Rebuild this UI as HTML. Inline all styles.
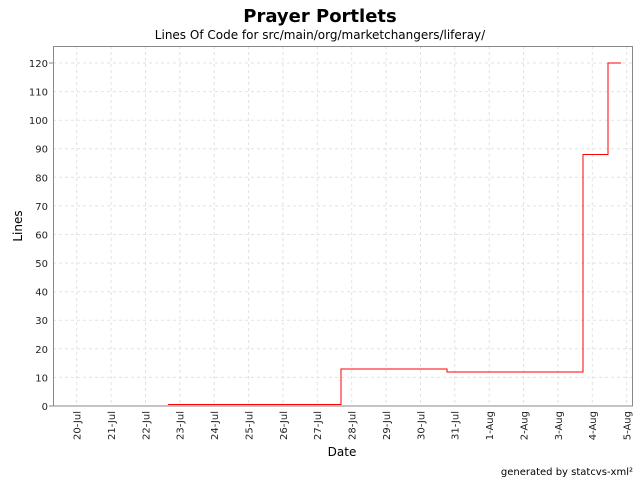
<!DOCTYPE html>
<html><head><style>body{margin:0;background:#fff}svg{display:block}text{font-family:"DejaVu Sans","Liberation Sans",sans-serif}</style></head><body>
<svg width="640" height="480" xmlns="http://www.w3.org/2000/svg">
<text x="320" y="22" text-anchor="middle" font-size="18" font-weight="bold">Prayer Portlets</text>
<text x="320" y="39" text-anchor="middle" font-size="12">Lines Of Code for src/main/org/marketchangers/liferay/</text>
<g stroke="#e2e2e2" stroke-dasharray="3,3" stroke-width="1">
<line x1="53" x2="632" y1="63" y2="63"/><line x1="53" x2="632" y1="91.6" y2="91.6"/><line x1="53" x2="632" y1="120.2" y2="120.2"/><line x1="53" x2="632" y1="148.7" y2="148.7"/><line x1="53" x2="632" y1="177.3" y2="177.3"/><line x1="53" x2="632" y1="205.9" y2="205.9"/><line x1="53" x2="632" y1="234.5" y2="234.5"/><line x1="53" x2="632" y1="263.1" y2="263.1"/><line x1="53" x2="632" y1="291.7" y2="291.7"/><line x1="53" x2="632" y1="320.2" y2="320.2"/><line x1="53" x2="632" y1="348.8" y2="348.8"/><line x1="53" x2="632" y1="377.4" y2="377.4"/>
<line x1="76.7" x2="76.7" y1="46" y2="406"/><line x1="111.1" x2="111.1" y1="46" y2="406"/><line x1="145.5" x2="145.5" y1="46" y2="406"/><line x1="179.8" x2="179.8" y1="46" y2="406"/><line x1="214.2" x2="214.2" y1="46" y2="406"/><line x1="248.6" x2="248.6" y1="46" y2="406"/><line x1="283" x2="283" y1="46" y2="406"/><line x1="317.3" x2="317.3" y1="46" y2="406"/><line x1="351.7" x2="351.7" y1="46" y2="406"/><line x1="386.1" x2="386.1" y1="46" y2="406"/><line x1="420.5" x2="420.5" y1="46" y2="406"/><line x1="454.8" x2="454.8" y1="46" y2="406"/><line x1="489.2" x2="489.2" y1="46" y2="406"/><line x1="523.6" x2="523.6" y1="46" y2="406"/><line x1="558" x2="558" y1="46" y2="406"/><line x1="592.3" x2="592.3" y1="46" y2="406"/><line x1="626.7" x2="626.7" y1="46" y2="406"/>
</g>
<rect x="53.5" y="46.5" width="579" height="359.5" fill="none" stroke="#888"/>
<polyline fill="none" stroke="#f00" stroke-width="1" points="168,404.5 341,404.5 341,369 447,369 447,372 583,372 583,154.5 608,154.5 608,63 621,63"/>
<g font-size="10" text-anchor="end" fill="#222">
<text x="48" y="67">120</text><text x="48" y="95.6">110</text><text x="48" y="124.2">100</text><text x="48" y="152.7">90</text><text x="48" y="181.3">80</text><text x="48" y="209.9">70</text><text x="48" y="238.5">60</text><text x="48" y="267.1">50</text><text x="48" y="295.7">40</text><text x="48" y="324.2">30</text><text x="48" y="352.8">20</text><text x="48" y="381.4">10</text><text x="48" y="410">0</text>
</g>
<g stroke="#888"><line x1="49" x2="53" y1="63" y2="63"/><line x1="49" x2="53" y1="406" y2="406"/></g>
<g font-size="10" text-anchor="end" fill="#222">
<text transform="translate(80.5,411) rotate(-90)">20-Jul</text><text transform="translate(114.9,411) rotate(-90)">21-Jul</text><text transform="translate(149.3,411) rotate(-90)">22-Jul</text><text transform="translate(183.6,411) rotate(-90)">23-Jul</text><text transform="translate(218,411) rotate(-90)">24-Jul</text><text transform="translate(252.4,411) rotate(-90)">25-Jul</text><text transform="translate(286.8,411) rotate(-90)">26-Jul</text><text transform="translate(321.1,411) rotate(-90)">27-Jul</text><text transform="translate(355.5,411) rotate(-90)">28-Jul</text><text transform="translate(389.9,411) rotate(-90)">29-Jul</text><text transform="translate(424.3,411) rotate(-90)">30-Jul</text><text transform="translate(458.6,411) rotate(-90)">31-Jul</text><text transform="translate(493,411) rotate(-90)">1-Aug</text><text transform="translate(527.4,411) rotate(-90)">2-Aug</text><text transform="translate(561.8,411) rotate(-90)">3-Aug</text><text transform="translate(596.1,411) rotate(-90)">4-Aug</text><text transform="translate(630.5,411) rotate(-90)">5-Aug</text>
</g>
<text x="342" y="456" text-anchor="middle" font-size="12">Date</text>
<text transform="translate(22,226) rotate(-90)" text-anchor="middle" font-size="12">Lines</text>
<text x="633" y="475" text-anchor="end" font-size="10">generated by statcvs-xml²</text>
</svg>
</body></html>
